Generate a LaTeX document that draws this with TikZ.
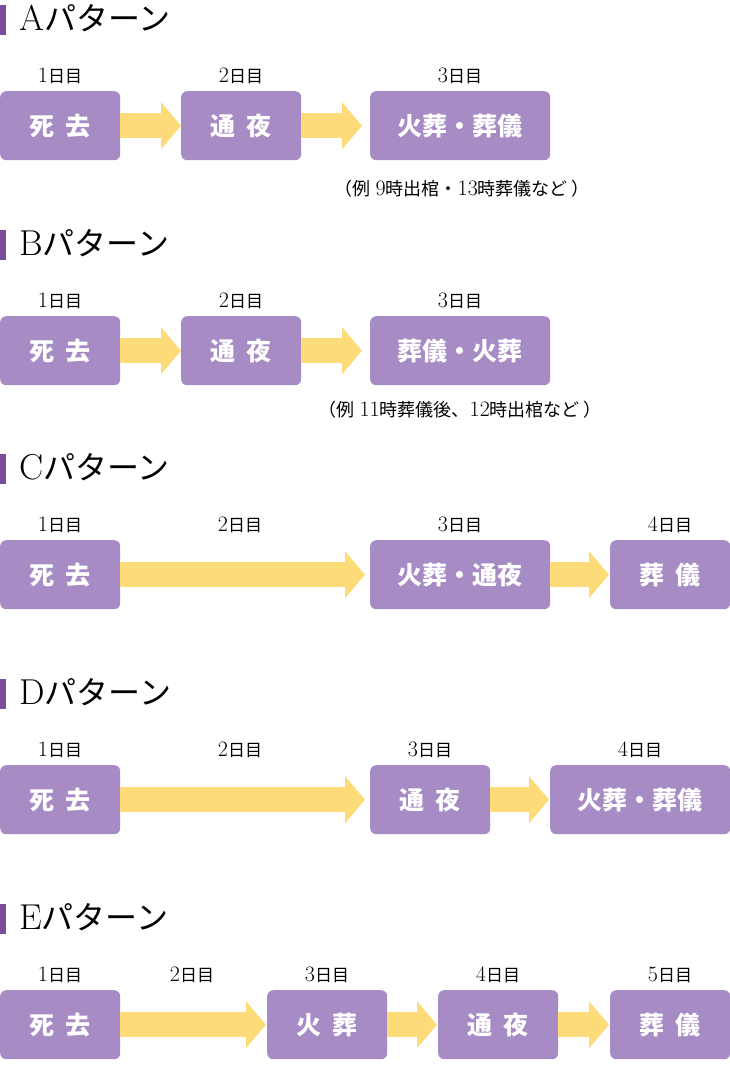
\documentclass[tikz,border=0pt]{standalone}
\usepackage{fontspec}
\newfontfamily\jp{Noto Sans CJK JP}
\usetikzlibrary{arrows.meta}

\definecolor{boxcol}{HTML}{A78BC4}
\definecolor{arrowcol}{HTML}{FDDB78}
\definecolor{barcol}{HTML}{7B4E9B}

\newcommand\gap{\hspace{.45em}}
\newcommand\dayno[1]{{\fontsize{22}{22}\selectfont #1}{\jp 日目}}
\newcommand\num[1]{{\fontsize{22}{22}\selectfont #1}}

\begin{document}
\begin{tikzpicture}[x=1pt,y=-1pt,
   daybox/.style={fill=boxcol,rounded corners=6pt,minimum height=69pt,inner sep=0pt,
      text=white,anchor=north west,font=\jp\bfseries\fontsize{25}{25}\selectfont},
   daylabel/.style={anchor=base,font=\fontsize{17}{17}\selectfont},
   note/.style={anchor=base,font=\fontsize{18}{18}\selectfont},
   flow/.style={draw=arrowcol,line width=25pt,-{Triangle[length=20pt,width=46pt]}}]

\useasboundingbox (0,0) rectangle (730,1090);

% pattern headers
\foreach \name/\top in {A/91,B/316,C/540,D/765,E/990} {
  \fill[barcol] (0,\top-86) rectangle (6,\top-56);
  \node[anchor=base west,inner sep=0pt] (head\name) at (19,\top-61)
     {\fontsize{36}{36}\selectfont \name{\jp\fontsize{32}{32}\selectfont パターン}};
}

% A
\node[daybox,minimum width=120pt] (a1) at (0,91) {死\gap 去};
\node[daybox,minimum width=120pt] (a2) at (181,91) {通\gap 夜};
\node[daybox,minimum width=180pt] (a3) at (370,91) {火葬・葬儀};
\node[daylabel] (la1) at (60,82) {\dayno{1}};
\node[daylabel] (la2) at (241,82) {\dayno{2}};
\node[daylabel] (la3) at (460,82) {\dayno{3}};
\draw[flow] (a1.east) -- (a2.west);
\draw[flow,shorten >=8pt] (a2.east) -- (a3.west);
\node[note] (na) at (462,195) {{\jp （例} \num{9}{\jp 時出棺・}\num{13}{\jp 時葬儀など ）}};

% B
\node[daybox,minimum width=120pt] (b1) at (0,316) {死\gap 去};
\node[daybox,minimum width=120pt] (b2) at (181,316) {通\gap 夜};
\node[daybox,minimum width=180pt] (b3) at (370,316) {葬儀・火葬};
\node[daylabel] (lb1) at (60,307) {\dayno{1}};
\node[daylabel] (lb2) at (241,307) {\dayno{2}};
\node[daylabel] (lb3) at (460,307) {\dayno{3}};
\draw[flow] (b1.east) -- (b2.west);
\draw[flow,shorten >=8pt] (b2.east) -- (b3.west);
\node[note] (nb) at (460,416) {{\jp （例} \num{11}{\jp 時葬儀後、}\num{12}{\jp 時出棺など ）}};

% C
\node[daybox,minimum width=120pt] (c1) at (0,540) {死\gap 去};
\node[daybox,minimum width=180pt] (c2) at (370,540) {火葬・通夜};
\node[daybox,minimum width=120pt] (c3) at (610,540) {葬\gap 儀};
\node[daylabel] (lc1) at (60,531) {\dayno{1}};
\node[daylabel] (lc2) at (240,531) {\dayno{2}};
\node[daylabel] (lc3) at (460,531) {\dayno{3}};
\node[daylabel] (lc4) at (670,531) {\dayno{4}};
\draw[flow,shorten >=5pt] (c1.east) -- (c2.west);
\draw[flow,shorten >=1pt] (c2.east) -- (c3.west);

% D
\node[daybox,minimum width=120pt] (d1) at (0,765) {死\gap 去};
\node[daybox,minimum width=120pt] (d2) at (370,765) {通\gap 夜};
\node[daybox,minimum width=180pt] (d3) at (550,765) {火葬・葬儀};
\node[daylabel] (ld1) at (60,756) {\dayno{1}};
\node[daylabel] (ld2) at (240,756) {\dayno{2}};
\node[daylabel] (ld3) at (430,756) {\dayno{3}};
\node[daylabel] (ld4) at (640,756) {\dayno{4}};
\draw[flow,shorten >=5pt] (d1.east) -- (d2.west);
\draw[flow,shorten >=1pt] (d2.east) -- (d3.west);

% E
\node[daybox,minimum width=120pt] (e1) at (0,990) {死\gap 去};
\node[daybox,minimum width=120pt] (e2) at (267,990) {火\gap 葬};
\node[daybox,minimum width=120pt] (e3) at (438,990) {通\gap 夜};
\node[daybox,minimum width=120pt] (e4) at (610,990) {葬\gap 儀};
\node[daylabel] (le1) at (60,981) {\dayno{1}};
\node[daylabel] (le2) at (192,981) {\dayno{2}};
\node[daylabel] (le3) at (327,981) {\dayno{3}};
\node[daylabel] (le4) at (498,981) {\dayno{4}};
\node[daylabel] (le5) at (670,981) {\dayno{5}};
\draw[flow,shorten >=1pt] (e1.east) -- (e2.west);
\draw[flow,shorten >=1pt] (e2.east) -- (e3.west);
\draw[flow,shorten >=1pt] (e3.east) -- (e4.west);

\end{tikzpicture}
\end{document}
